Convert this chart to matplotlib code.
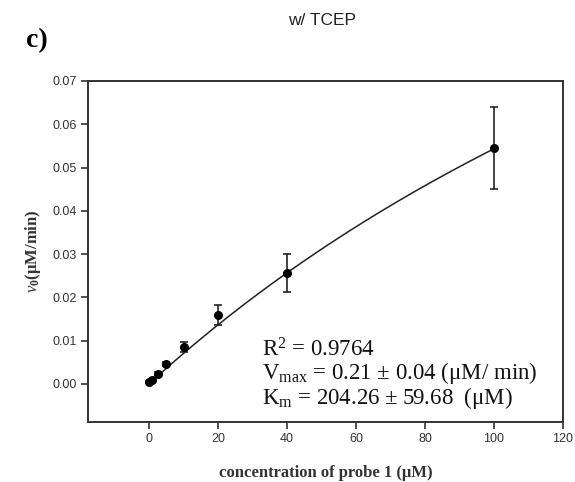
import numpy as np
import matplotlib
matplotlib.use("Agg")
import matplotlib.pyplot as plt

plt.rcParams['mathtext.fontset'] = 'custom'
plt.rcParams['mathtext.rm'] = 'Liberation Serif'
plt.rcParams['mathtext.it'] = 'Liberation Serif:italic'
plt.rcParams['mathtext.bf'] = 'Liberation Serif:bold'

# data
conc = [0, 1, 2.5, 5, 10, 20, 40, 100]
rate = [0.0004, 0.0009, 0.0024, 0.0046, 0.0085, 0.0159, 0.0256, 0.0545]
err = [0.0002, 0.0003, 0.0004, 0.0005, 0.0011, 0.0023, 0.0044, 0.0095]
# fitted Michaelis-Menten curve parameters (as drawn)
fit_vmax = 0.213
fit_km = 292.0
x_ticks = [0, 20, 40, 60, 80, 100, 120]
y_ticks = [0.00, 0.01, 0.02, 0.03, 0.04, 0.05, 0.06, 0.07]
stats_lines = ["R$^{2}$ = 0.9764",
               "V$_{\\mathrm{max}}$ = 0.21 ± 0.04 (μM/ min)",
               "K$_{\\mathrm{m}}$ = 204.26 ± 59.68  (μM)"]

fig = plt.figure(figsize=(5.75, 4.82), dpi=100)
ax = fig.add_axes([0.153, 0.1245, 0.826, 0.7075])

xf = np.linspace(0, 100, 200)
ax.plot(xf, fit_vmax * xf / (fit_km + xf), color='#222222', lw=1.1)
ax.errorbar(conc, rate, yerr=err, fmt='o', color='black', ms=5.5,
            ecolor='#222222', elinewidth=1.2, capsize=3, capthick=1.2)

ax.set_xlim(-17.7, 120)
ax.set_ylim(-0.0088, 0.07)
ax.set_xticks(x_ticks)
ax.set_yticks(y_ticks)
ax.set_xticklabels([str(t) for t in x_ticks])
ax.set_yticklabels([f"{t:.2f}" for t in y_ticks])
ax.tick_params(direction='out', length=5, width=1.2, color='#333333',
               labelsize=9, labelcolor='#333333', pad=3)
for lab in ax.get_xticklabels() + ax.get_yticklabels():
    lab.set_family('Liberation Sans')
for s in ax.spines.values():
    s.set_linewidth(1.4)
    s.set_color('#333333')

ax.set_xlabel("concentration of probe 1 (μM)", family='Liberation Serif',
              fontsize=12, fontweight='bold', color='#333333', labelpad=14)
ax.set_ylabel("$\\mathbf{\\mathit{v}}_{\\mathbf{0}}$(μM/min)", family='Liberation Serif',
              fontsize=12, fontweight='bold', color='#333333', labelpad=7)

ys = [0.0078, 0.0025, -0.0032]
for t, yv in zip(stats_lines, ys):
    ax.text(32.8, yv, t, family='Liberation Serif', fontsize=16.5,
            va='center', ha='left', color='#111111')

fig.text(0.56, 0.958, "w/ TCEP", family='Liberation Sans', fontsize=12.5,
         ha='center', va='center', color='#222222')
fig.text(0.045, 0.915, "c)", family='Liberation Serif', fontsize=20,
         fontweight='bold', ha='left', va='center')

fig.savefig("out.png", dpi=100)
